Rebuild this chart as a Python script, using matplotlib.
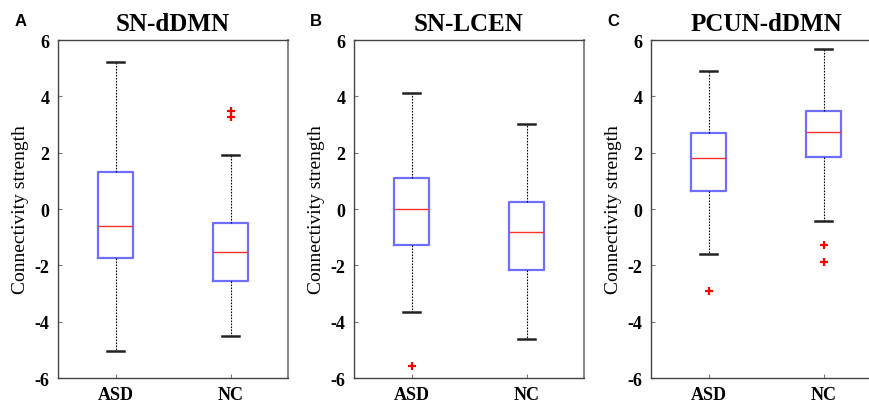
import matplotlib
matplotlib.use("Agg")
import matplotlib.pyplot as plt

groups = ["ASD", "NC"]
titles = ["SN-dDMN", "SN-LCEN", "PCUN-dDMN"]
letters = ["A", "B", "C"]
yticks = [-6, -4, -2, 0, 2, 4, 6]

# per panel, per group: lower whisker, Q1, median, Q3, upper whisker
whislo = [[-5.04, -4.50], [-3.64, -4.61], [-1.59, -0.42]]
q1 = [[-1.74, -2.54], [-1.29, -2.17], [0.63, 1.86]]
med = [[-0.59, -1.54], [-0.01, -0.81], [1.80, 2.74]]
q3 = [[1.30, -0.50], [1.09, 0.25], [2.71, 3.48]]
whishi = [[5.23, 1.93], [4.12, 3.02], [4.91, 5.69]]
fliers = [[[], [3.49, 3.25]], [[-5.57], []], [[-2.90], [-1.29, -1.88]]]

serif = "Liberation Serif"
plt.rcParams["axes.unicode_minus"] = False

fig = plt.figure(figsize=(8.7, 4.06), dpi=100)
lefts = [0.0667, 0.4069, 0.7483]
for p in range(3):
    ax = fig.add_axes([lefts[p], 0.0665, 0.2644, 0.8325])
    stats = []
    for g in range(2):
        stats.append(dict(whislo=whislo[p][g], q1=q1[p][g], med=med[p][g],
                          q3=q3[p][g], whishi=whishi[p][g], fliers=fliers[p][g]))
    ax.bxp(stats, positions=[1, 2], widths=0.31, capwidths=0.15,
           boxprops=dict(color="#6f6fff", linewidth=1.6),
           medianprops=dict(color="#ff3030", linewidth=1.0),
           whiskerprops=dict(color="black", linestyle=(0, (1.5, 1.2)), linewidth=0.8),
           capprops=dict(color="#222222", linewidth=1.8),
           flierprops=dict(marker="+", markeredgecolor="red", markersize=6,
                           markeredgewidth=1.6, linestyle="none"))
    ax.set_xlim(0.5, 2.5)
    ax.set_ylim(-6, 6)
    ax.set_yticks(yticks)
    ax.set_yticklabels([str(v) for v in yticks], fontfamily=serif, fontweight="bold", fontsize=13)
    ax.set_xticks([1, 2])
    ax.set_xticklabels(groups, fontfamily=serif, fontweight="bold", fontsize=13)
    ax.tick_params(direction="in", length=3, color="#777777", pad=6)
    for s in ax.spines.values():
        s.set_color("#444444")
        s.set_linewidth(1.0)
    ax.spines["right"].set_color("#888888")
    ax.spines["right"].set_linewidth(1.5)
    ax.set_ylabel("Connectivity strength", fontfamily=serif, fontsize=14, labelpad=4)
    ax.set_title(titles[p], fontfamily=serif, fontweight="bold", fontsize=18, pad=7)
    ax.text(-0.19, 1.035, letters[p], transform=ax.transAxes, fontfamily="Liberation Sans",
            fontweight="bold", fontsize=12, va="bottom", ha="left")

fig.savefig("out.png", dpi=100)
